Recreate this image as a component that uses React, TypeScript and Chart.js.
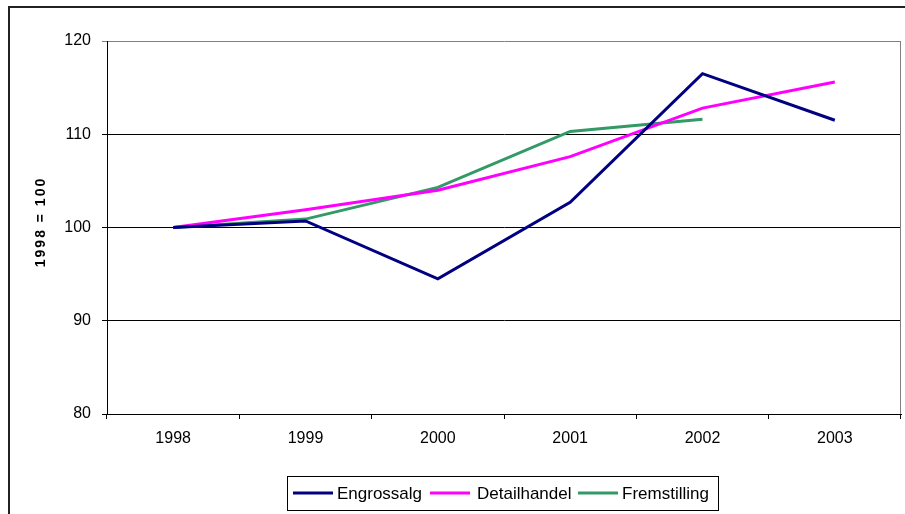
import React, { useEffect, useRef } from "react";
import { Chart, registerables } from "chart.js";

Chart.register(...registerables);

const years = ["1998", "1999", "2000", "2001", "2002", "2003"];
const engrossalg = [100, 100.7, 94.5, 102.7, 116.5, 111.5];
const detailhandel = [100, 101.9, 104.0, 107.6, 112.8, 115.6];
const fremstilling = [100, 100.9, 104.3, 110.3, 111.6, null];
const yTicks = [80, 90, 100, 110, 120];
const yLabel = "1998 = 100";
const seriesNames = ["Engrossalg", "Detailhandel", "Fremstilling"];
const seriesColors = ["#000080", "#FF00FF", "#339966"];

const FONT = "'Liberation Sans', Arial, sans-serif";

const decorPlugin = {
  id: "decor",
  beforeDraw(chart: any) {
    const ctx = chart.ctx;
    ctx.save();
    ctx.fillStyle = "#ffffff";
    ctx.fillRect(0, 0, chart.width, chart.height);
    // outer frame
    ctx.strokeStyle = "#222222";
    ctx.lineWidth = 2;
    ctx.strokeRect(9, 7, 2000, 2000);
    ctx.restore();
  },
  beforeDatasetsDraw(chart: any) {
    const ctx = chart.ctx;
    const a = chart.chartArea;
    ctx.save();
    ctx.strokeStyle = "#808080";
    ctx.lineWidth = 1;
    ctx.beginPath();
    ctx.moveTo(Math.round(a.right) - 0.5, a.top);
    ctx.lineTo(Math.round(a.right) - 0.5, a.bottom);
    ctx.stroke();
    ctx.restore();
  },
  afterDraw(chart: any) {
    const ctx = chart.ctx;
    ctx.save();
    // y axis title
    ctx.translate(41, 222);
    ctx.rotate(-Math.PI / 2);
    ctx.font = "bold 14px " + FONT;
    try { (ctx as any).letterSpacing = "2px"; } catch (e) {}
    ctx.fillStyle = "#000000";
    ctx.textAlign = "center";
    ctx.textBaseline = "middle";
    ctx.fillText(yLabel, 0, 0);
    ctx.restore();

    // legend
    ctx.save();
    ctx.strokeStyle = "#000000";
    ctx.lineWidth = 1;
    ctx.strokeRect(287.5, 476.5, 431, 34);
    const swX = [293, 430, 578];
    const txX = [337, 477, 622];
    const cy = 493;
    ctx.font = "17px " + FONT;
    ctx.textBaseline = "middle";
    ctx.textAlign = "left";
    for (let i = 0; i < seriesNames.length; i++) {
      ctx.strokeStyle = seriesColors[i];
      ctx.lineWidth = 3;
      ctx.beginPath();
      ctx.moveTo(swX[i], cy);
      ctx.lineTo(swX[i] + 40, cy);
      ctx.stroke();
      ctx.fillStyle = "#000000";
      ctx.fillText(seriesNames[i], txX[i], cy + 1);
    }
    ctx.restore();
  },
};

export default function App() {
  const ref = useRef<HTMLCanvasElement>(null);
  useEffect(() => {
    document.body.style.margin = "0";
    const chart = new Chart(ref.current as HTMLCanvasElement, {
      type: "line",
      data: {
        labels: years,
        datasets: [
          { label: seriesNames[0], data: engrossalg, borderColor: seriesColors[0], backgroundColor: seriesColors[0], borderWidth: 3, pointRadius: 0, tension: 0 },
          { label: seriesNames[1], data: detailhandel, borderColor: seriesColors[1], backgroundColor: seriesColors[1], borderWidth: 3, pointRadius: 0, tension: 0 },
          { label: seriesNames[2], data: fremstilling, borderColor: seriesColors[2], backgroundColor: seriesColors[2], borderWidth: 3, pointRadius: 0, tension: 0 },
        ],
      },
      options: {
        responsive: false,
        animation: false,
        layout: { padding: { top: 41, right: 4, bottom: 0, left: 0 } },
        plugins: { legend: { display: false }, tooltip: { enabled: false } },
        scales: {
          x: {
            type: "category",
            offset: true,
            grid: { offset: true, drawOnChartArea: false, drawTicks: true, tickLength: 5, color: "#000000" },
            border: { display: true, color: "#000000", width: 1 },
            ticks: { color: "#000000", font: { family: FONT, size: 16 }, padding: 10, maxRotation: 0 },
            afterFit(scale: any) { scale.height = 100; },
          },
          y: {
            min: 80,
            max: 120,
            afterBuildTicks(scale: any) { scale.ticks = yTicks.map((v) => ({ value: v })); },
            grid: {
              color: (c: any) => (c.tick && c.tick.value === 120 ? "#808080" : "#000000"),
              tickLength: 5,
              drawTicks: true,
            },
            border: { display: true, color: "#000000", width: 1 },
            ticks: { color: "#000000", font: { family: FONT, size: 16 }, padding: 11 },
            afterFit(scale: any) { scale.width = 107; },
          },
        },
      },
      plugins: [decorPlugin],
    } as any);
    return () => chart.destroy();
  }, []);
  return <canvas ref={ref} width={905} height={514} style={{ display: "block" }} />;
}
